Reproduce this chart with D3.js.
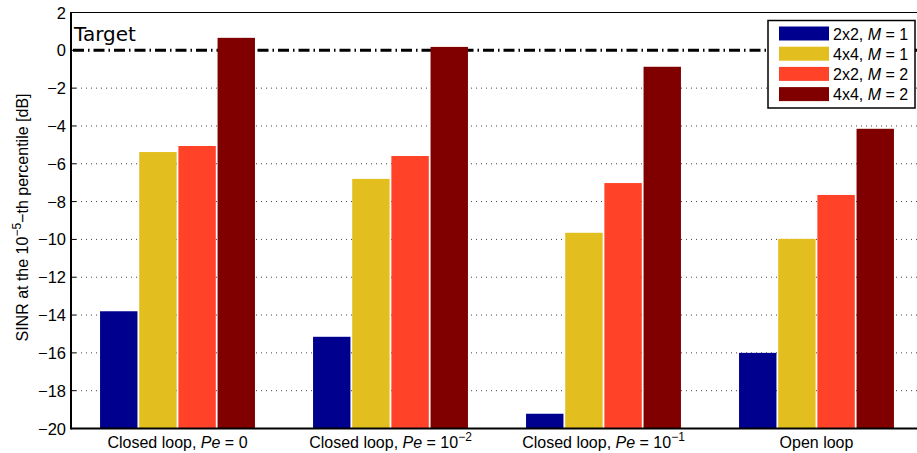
<!DOCTYPE html>
<html>
<head>
<meta charset="utf-8">
<script src="https://cdn.jsdelivr.net/npm/d3@7"></script>
<style>
  body { margin: 0; background: #fff; }
  svg { display: block; }
  text { font-family: "Liberation Sans", Arial, sans-serif; fill: #000; }
</style>
</head>
<body>
<svg id="chart"></svg>
<script>
// data
const groups = ["cl0", "cl2", "cl1", "open"];
const series = ["2x2, M = 1", "4x4, M = 1", "2x2, M = 2", "4x4, M = 2"];
const seriesSize = ["2x2", "4x4", "2x2", "4x4"];
const seriesM = ["1", "1", "2", "2"];
const colors = ["#00008f", "#e2bf1e", "#ff4228", "#800000"];
const values = [
    [-13.8, -5.38, -5.06, 0.66],   // Closed loop, Pe = 0
    [-15.15, -6.8, -5.59, 0.18],   // Closed loop, Pe = 10^-2
    [-19.22, -9.65, -7.02, -0.87], // Closed loop, Pe = 10^-1
    [-16.0, -9.97, -7.65, -4.15]   // Open loop
];
const xLabelMain = ["Closed loop, ", "Closed loop, ", "Closed loop, ", "Open loop"];
const xLabelExp = ["", "\u22122", "\u22121", ""];
const xLabelVal = ["0", "10", "10", ""];
const yTicks = [2, 0, -2, -4, -6, -8, -10, -12, -14, -16, -18, -20];
const target = 0;

const width = 917,
    height = 453;
const margin = { top: 12.5, right: -6, bottom: 24.5, left: 71 };

const svg = d3.select("#chart")
    .attr("width", width)
    .attr("height", height);

const x = d3.scaleBand()
    .domain(groups)
    .range([margin.left, width - margin.right])
    .paddingInner(0.2727)
    .paddingOuter(0.1364);

const xi = d3.scaleBand()
    .domain(d3.range(series.length))
    .range([0, x.bandwidth()])
    .paddingInner(0.045);

const y = d3.scaleLinear()
    .domain([-20, 2])
    .range([height - margin.bottom, margin.top]);

// dotted grid
svg.append("g")
    .selectAll("line")
    .data(yTicks.filter(d => d > -20 && d < 2 && d !== target))
    .join("line")
    .attr("x1", margin.left)
    .attr("x2", width - margin.right)
    .attr("y1", d => y(d))
    .attr("y2", d => y(d))
    .attr("stroke", "#444")
    .attr("stroke-width", 1)
    .attr("stroke-dasharray", "1,4");

// target line
svg.append("line")
    .attr("x1", margin.left + 2)
    .attr("x2", width - margin.right)
    .attr("y1", y(target))
    .attr("y2", y(target))
    .attr("stroke", "#000")
    .attr("stroke-width", 3)
    .attr("stroke-dasharray", "11,4,1.5,4");

svg.append("text")
    .attr("x", 74)
    .attr("y", 41)
    .style("font-family", "'DejaVu Sans', sans-serif")
    .style("font-size", "20px")
    .text("Target");

// bars
svg.append("g")
    .selectAll("g")
    .data(values)
    .join("g")
    .attr("transform", (d, i) => `translate(${x(groups[i])},0)`)
    .selectAll("rect")
    .data(d => d)
    .join("rect")
    .attr("x", (d, j) => xi(j))
    .attr("width", xi.bandwidth())
    .attr("y", d => y(d))
    .attr("height", d => y(-20) - y(d))
    .attr("fill", (d, j) => colors[j]);

// axes box
svg.append("line")
    .attr("x1", margin.left).attr("x2", width)
    .attr("y1", y(2)).attr("y2", y(2))
    .attr("stroke", "#000").attr("stroke-width", 1);

svg.append("line")
    .attr("x1", margin.left).attr("x2", width)
    .attr("y1", y(-20)).attr("y2", y(-20))
    .attr("stroke", "#000").attr("stroke-width", 2);

svg.append("line")
    .attr("x1", margin.left).attr("x2", margin.left)
    .attr("y1", y(2) - 0.5).attr("y2", y(-20) + 1)
    .attr("stroke", "#000").attr("stroke-width", 2);

// y ticks + labels
const yt = svg.append("g");
yt.selectAll("line")
    .data(yTicks)
    .join("line")
    .attr("x1", margin.left)
    .attr("x2", margin.left + 5)
    .attr("y1", d => y(d))
    .attr("y2", d => y(d))
    .attr("stroke", "#000");

yt.selectAll("text")
    .data(yTicks)
    .join("text")
    .attr("x", 66)
    .attr("y", d => y(d) + 6)
    .attr("text-anchor", "end")
    .style("font-size", "16.5px")
    .text(d => d < 0 ? "\u2212" + Math.abs(d) : String(d));

// x labels
const xl = svg.append("g")
    .selectAll("text")
    .data(groups)
    .join("text")
    .attr("x", d => x(d) + x.bandwidth() / 2)
    .attr("y", 448)
    .attr("text-anchor", "middle")
    .style("font-size", "16px");

xl.each(function(d, i) {
    const t = d3.select(this);
    t.append("tspan").text(xLabelMain[i]);
    if (xLabelVal[i] !== "") {
        t.append("tspan").style("font-style", "italic").text("Pe");
        t.append("tspan").text(" = " + xLabelVal[i]);
        if (xLabelExp[i] !== "") {
            t.append("tspan")
                .attr("dy", -7)
                .style("font-size", "12px")
                .text(xLabelExp[i]);
        }
    }
});

// y axis title
const yl = svg.append("text")
    .attr("transform", `translate(27.5,217.5) rotate(-90)`)
    .attr("text-anchor", "middle")
    .style("font-size", "16px");
yl.append("tspan").text("SINR at the 10");
yl.append("tspan").attr("dy", -7).style("font-size", "12px").text("\u22125");
yl.append("tspan").attr("dy", 7).text("\u2212th percentile [dB]");

// legend
const lg = svg.append("g").attr("transform", "translate(768,20.5)");
lg.append("rect")
    .attr("width", 147)
    .attr("height", 87.5)
    .attr("fill", "#fff")
    .attr("stroke", "#000")
    .attr("stroke-width", 1.5);

const items = lg.selectAll("g")
    .data(series)
    .join("g")
    .attr("transform", (d, i) => `translate(0,${13 + i * 20.2})`);

items.append("rect")
    .attr("x", 11)
    .attr("y", -7)
    .attr("width", 50)
    .attr("height", 14)
    .attr("fill", (d, i) => colors[i]);

items.append("text")
    .attr("x", 65)
    .attr("y", 6)
    .style("font-size", "16px")
    .each(function(d, i) {
        const t = d3.select(this);
        t.append("tspan").text(seriesSize[i] + ", ");
        t.append("tspan").style("font-style", "italic").text("M");
        t.append("tspan").text(" = " + seriesM[i]);
    });
</script>
</body>
</html>
